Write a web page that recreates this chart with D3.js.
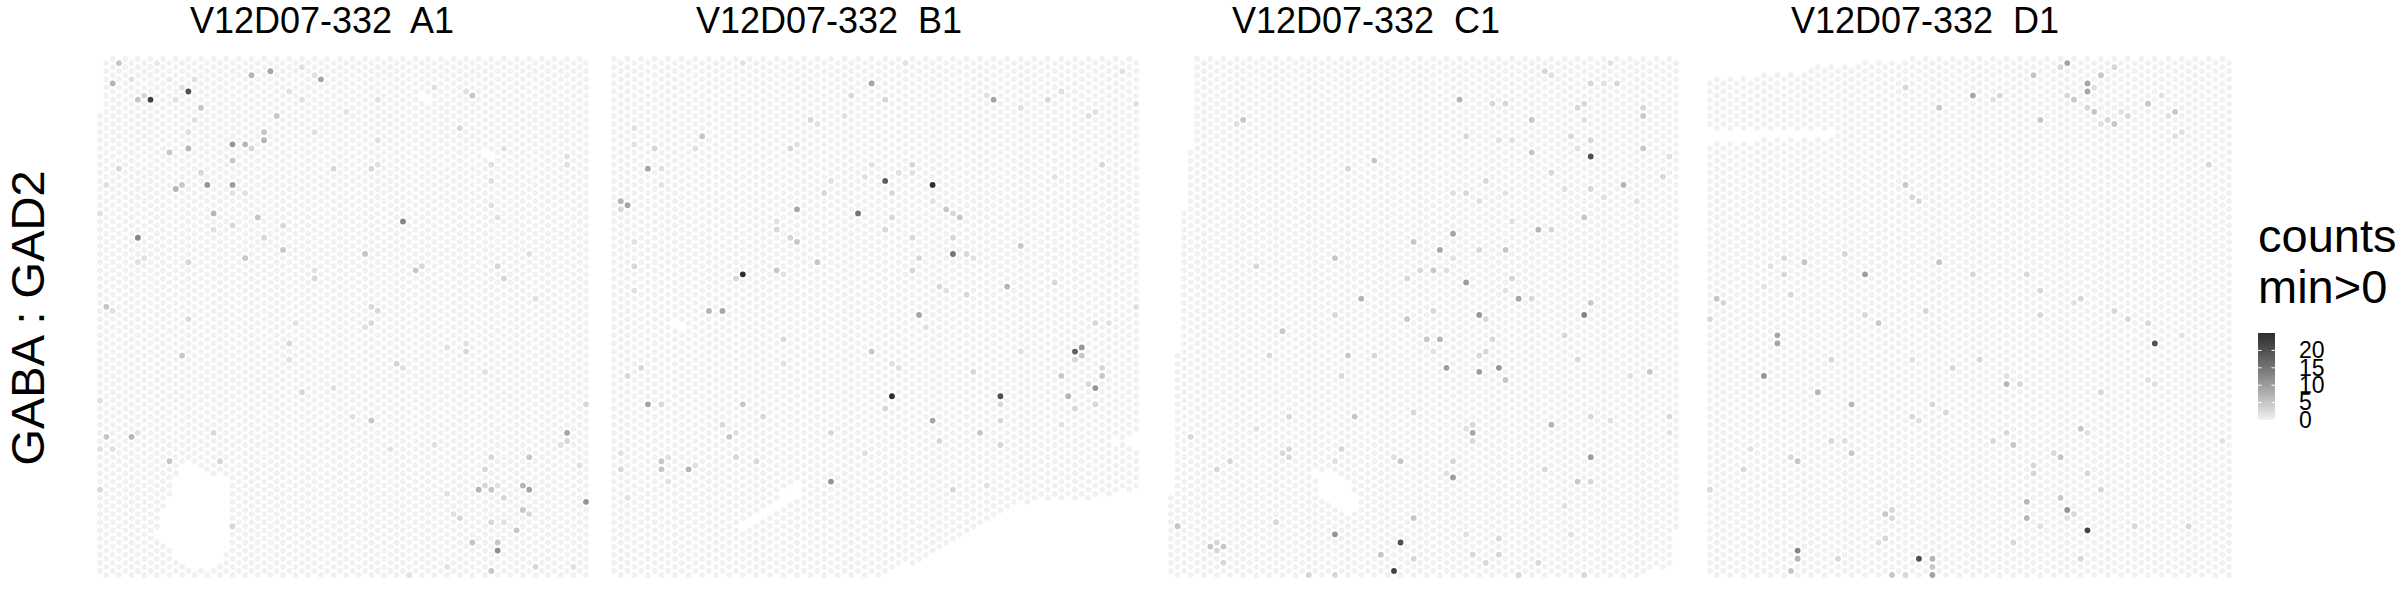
<!DOCTYPE html>
<html><head><meta charset="utf-8">
<script src="https://cdn.jsdelivr.net/npm/d3@7"></script>
<style>
body{margin:0;background:#fff}
svg{display:block}
text{font-family:"Liberation Sans",Arial,Helvetica,sans-serif;fill:#000;white-space:pre}
</style>
</head><body>
<svg id="chart" width="2400" height="600"></svg>
<script>
// ---------------- data ----------------
const sampleNames = ["V12D07-332  A1", "V12D07-332  B1", "V12D07-332  C1", "V12D07-332  D1"];
const featureLabel = "GABA : GAD2";
const legendTitle = ["counts", "min>0"];
const legendTicks = [0, 5, 10, 15, 20];
const countMax = 25;
const nArrayRows = 78;   // spot columns across (x)
const nArrayCols = 128;  // half-step positions down (y)

// reading frame of each capture area: [x of first lattice column, x of last, y of first, y of last]
const frameA1 = [30, 1475, 30, 1525];
const frameB1 = [45, 1510, 30, 1525];
const frameC1 = [30, 1535, 30, 1525];
const frameD1 = [50, 1530, 30, 1530];

// areas without tissue (no spots), in reading units
const gapsA1 = [
  [[280,1200],[330,1222],[408,1250],[408,1455],[370,1505],[300,1505],[195,1420],[205,1360],[250,1262]],
  [[-10,-10],[40,-10],[40,185],[-10,185]],
  [[975,130],[1000,122],[1012,150],[985,160]],
  [[1150,280],[1180,282],[1215,322],[1190,330]]
];
const gapsB1 = [
  [[1530,1262],[1450,1296],[1180,1318],[1150,1345],[780,1545],[1530,1545]],
  [[1530,1105],[1445,1138],[1530,1160]],
  [[390,1392],[405,1370],[560,1262],[578,1280],[420,1398]],
  [[205,790],[222,778],[258,815],[240,828]]
];
const gapsC1 = [
  [[-10,-10],[100,-10],[100,285],[80,285],[80,465],[60,465],[60,875],[40,875],[40,1285],[-10,1285]],
  [[455,1222],[555,1240],[582,1290],[578,1332],[540,1348],[470,1292]],
  [[1545,1390],[1525,1400],[1525,1500],[1450,1510],[1450,1545],[1545,1545]]
];
const gapsD1 = [
  [[-10,-10],[1560,-10],[1560,20],[630,20],[620,36],[480,36],[475,50],[330,50],[325,66],[180,66],[175,82],[-10,82]],
  [[-10,238],[420,238],[432,250],[320,262],[170,262],[160,273],[-10,273]]
];

// spots with counts > 0 : [x, y, count] in reading units
const countsA1 = [[95,42,5],[195,30,1],[75,102,7],[115,78,2],[135,138,5],[155,125,3],[175,138,22],[295,113,20],[315,78,2],[335,160,5],[275,102,2],[235,90,1],[255,138,2],[475,78,7],[535,66,9],[695,90,9],[635,54,2],[675,78,2],[555,195,5],[515,244,5],[515,268,7],[475,292,3],[455,280,7],[415,280,11],[415,327,5],[415,398,10],[415,422,2],[455,422,2],[355,387,11],[375,468,7],[295,280,7],[235,292,5],[255,398,7],[275,387,5],[335,351,3],[315,196,2],[295,232,2],[95,351,3],[135,540,13],[55,398,2],[35,480,2],[495,492,5],[515,552,3],[415,516,3],[375,516,2],[575,516,3],[575,588,5],[455,612,5],[295,612,3],[155,600,2],[135,612,2],[55,752,5],[75,765,2],[295,777,3],[275,884,5],[933,492,13],[853,137,2],[755,172,2],[635,149,2],[595,125,2],[715,339,3],[835,339,3],[855,327,2],[855,256,2],[675,244,2],[815,588,5],[975,636,5],[995,624,3],[675,670,3],[675,647,2],[835,741,3],[855,753,3],[835,789,3],[815,801,2],[595,861,3],[615,801,2],[595,908,2],[915,908,3],[933,920,2],[635,1003,3],[715,980,2],[835,1075,5],[775,1060,2],[893,1157,2],[1033,1145,2],[1133,137,5],[1113,125,2],[1093,232,3],[1033,102,2],[1193,339,2],[1193,387,2],[1193,457,2],[1213,492,2],[1233,290,2],[1413,327,2],[1413,304,2],[1213,636,3],[1233,670,3],[1313,600,2],[1333,730,2],[1113,884,3],[1113,861,2],[1053,873,2],[1173,944,2],[1413,1110,9],[1413,1133,3],[1393,1145,2],[1473,1027,3],[1453,1204,2],[1473,1310,11],[1193,1192,3],[1173,1228,3],[1313,1192,5],[1153,1287,7],[1193,1287,5],[1173,1274,3],[1213,1274,2],[1293,1275,7],[1313,1287,9],[1233,1310,3],[1293,1345,5],[1313,1357,3],[1093,1369,3],[1073,1357,2],[1193,1381,3],[1273,1405,5],[1233,1381,2],[1133,1440,5],[1213,1440,5],[1213,1464,12],[1193,1523,5],[1333,1512,3],[1053,1298,2],[115,1121,7],[55,1133,5],[35,1169,2],[75,1169,2],[135,1110,2],[235,1192,5],[375,1110,3],[395,1192,3],[35,1287,3],[35,1027,2],[415,1393,3],[955,1523,2],[1053,1510,2],[1433,1500,2]];

const countsB1 = [[770,90,9],[710,125,3],[808,137,3],[1110,137,9],[1090,125,2],[1263,137,3],[1300,113,2],[1188,160,2],[1370,185,2],[1395,173,2],[690,185,2],[598,196,3],[618,208,2],[295,244,5],[275,280,2],[105,220,2],[105,268,2],[162,280,3],[143,339,9],[180,339,2],[180,387,2],[68,433,7],[87,445,9],[68,457,3],[105,552,2],[105,624,3],[105,694,2],[87,944,3],[125,920,3],[143,1027,9],[180,1027,3],[180,1192,5],[180,1215,5],[200,1192,2],[257,1215,7],[275,1204,2],[68,1215,3],[68,1168,2],[200,1250,2],[87,1298,2],[408,648,25],[388,660,3],[503,636,5],[522,648,2],[314,753,7],[352,753,9],[522,836,3],[522,908,2],[408,1027,5],[352,1087,3],[370,1121,5],[390,1110,2],[390,1180,3],[447,1192,3],[465,1062,3],[656,1252,11],[656,1110,3],[560,457,9],[541,540,3],[560,552,5],[503,516,3],[503,492,2],[636,410,3],[656,375,2],[617,612,5],[541,280,3],[560,268,2],[731,469,15],[808,375,18],[940,387,25],[826,410,3],[826,480,3],[808,516,3],[883,327,3],[883,351,2],[845,351,2],[750,363,2],[770,327,2],[997,587,15],[978,457,5],[997,469,3],[1016,480,5],[997,540,3],[940,433,2],[883,540,3],[903,600,3],[883,636,3],[1035,587,3],[1054,600,2],[1148,682,7],[1035,706,3],[960,682,3],[978,694,2],[1188,564,5],[1283,670,3],[1414,327,3],[1282,363,2],[902,765,9],[920,800,2],[770,872,5],[826,1003,25],[808,1039,3],[826,908,2],[845,920,2],[940,1074,9],[960,1133,3],[1130,1003,20],[1130,1027,3],[1130,1074,3],[1130,1145,3],[1073,1110,5],[1054,932,3],[1338,872,18],[1357,861,11],[1357,884,5],[1338,896,3],[1300,944,5],[1414,920,3],[1414,944,5],[1395,979,11],[1376,967,3],[1320,1003,7],[1338,1039,3],[1395,1027,3],[1300,1086,2],[1395,790,3],[1433,790,2],[1510,741,2],[1188,872,2],[997,1275,3],[750,1168,2],[1090,1263,2],[1508,150,2],[1470,54,2],[410,30,2],[862,30,2]];

const countsC1 = [[883,137,7],[982,149,3],[1020,149,3],[1100,196,5],[1140,54,3],[1160,66,2],[1277,90,3],[1316,90,2],[1355,90,3],[1336,30,2],[1257,149,3],[1237,160,3],[1257,196,2],[1433,160,3],[1433,185,5],[1218,244,3],[1277,256,3],[1238,280,2],[1433,280,5],[1277,303,20],[1100,291,5],[1375,387,7],[1492,363,3],[1511,303,2],[1158,351,3],[1277,398,3],[1316,422,2],[1414,433,2],[1198,398,2],[1040,257,2],[1001,257,2],[903,244,3],[627,315,5],[548,339,3],[253,208,5],[235,220,2],[962,375,3],[903,410,3],[863,410,2],[941,433,2],[1020,410,2],[1257,481,5],[1120,516,7],[1158,516,3],[1040,492,2],[864,528,9],[745,552,5],[824,576,9],[941,576,3],[1020,576,5],[864,600,2],[509,600,5],[293,636,3],[804,636,5],[765,636,3],[843,636,2],[902,670,10],[725,658,3],[1040,658,3],[1060,718,9],[1100,718,3],[1021,694,2],[588,718,7],[942,765,11],[962,777,3],[1257,765,13],[1277,730,5],[725,777,5],[804,753,3],[371,824,5],[509,765,3],[785,836,5],[824,836,7],[982,836,3],[1198,824,3],[1238,896,3],[548,884,5],[627,884,3],[332,896,3],[843,920,10],[942,932,10],[1001,920,11],[1021,955,5],[962,873,3],[942,884,3],[804,873,2],[529,944,3],[1453,932,5],[1395,944,2],[1512,1062,3],[1512,1110,2],[1277,1062,3],[1336,1074,2],[1158,1086,7],[568,1062,5],[745,1050,3],[922,1110,9],[922,1086,3],[922,1133,3],[902,1098,2],[391,1074,3],[293,1110,2],[96,1133,3],[371,1180,3],[391,1168,3],[391,1192,3],[214,1204,3],[174,1228,3],[529,1157,3],[509,1192,2],[706,1192,5],[686,1180,2],[863,1192,3],[863,1240,10],[843,1228,2],[1277,1180,10],[1237,1252,5],[1138,1215,3],[1277,1252,3],[1198,1323,2],[745,1359,5],[509,1405,11],[706,1429,20],[686,1512,22],[647,1464,5],[745,1476,3],[155,1452,5],[174,1440,3],[194,1452,5],[174,1464,3],[194,1500,3],[56,1393,5],[352,1381,3],[431,1523,3],[509,1523,3],[922,1464,3],[962,1488,3],[1001,1464,3],[1060,1523,3],[1119,1488,3],[1257,1523,3],[903,1405,2],[1001,1417,3],[1217,1405,2]];

const countsD1 = [[1070,30,9],[1128,90,9],[1128,113,9],[1145,102,2],[1165,66,5],[1205,42,3],[1090,137,5],[1070,125,3],[1145,172,5],[1128,160,3],[1185,196,3],[1205,208,5],[1165,208,2],[1300,149,5],[1376,172,5],[1338,125,2],[1360,185,2],[1242,185,3],[1222,172,2],[995,196,5],[975,66,5],[1050,42,3],[800,125,9],[880,125,3],[860,137,2],[706,160,5],[610,102,3],[1470,327,3],[1393,244,2],[1376,256,2],[610,387,5],[630,422,3],[650,433,3],[706,612,5],[495,648,10],[323,612,5],[266,600,3],[437,588,3],[266,648,3],[228,624,2],[955,648,3],[800,648,3],[75,718,5],[94,730,3],[285,706,3],[209,682,2],[55,777,3],[247,824,9],[247,849,9],[209,944,11],[363,991,7],[667,753,3],[535,789,5],[495,765,3],[993,694,3],[1108,718,3],[1088,730,2],[993,765,3],[1203,753,3],[1242,777,3],[1300,789,3],[1319,849,20],[1395,824,2],[820,896,3],[745,920,3],[630,896,2],[400,896,3],[898,967,7],[936,967,3],[897,944,2],[1165,991,3],[1300,955,2],[1319,967,2],[457,1027,7],[687,1027,3],[725,1050,3],[630,1062,3],[650,1074,2],[458,1168,5],[400,1133,3],[437,1133,2],[1108,1098,5],[1128,1110,2],[897,1110,3],[917,1145,5],[860,1133,3],[1050,1180,5],[1030,1168,3],[975,1204,3],[975,1228,3],[955,1310,7],[955,1357,7],[1050,1298,5],[1070,1334,11],[1088,1345,3],[1070,1357,2],[1128,1393,22],[1128,1228,3],[1165,1275,3],[1263,1381,3],[1413,1381,3],[1510,1133,2],[305,1192,5],[285,1180,3],[150,1215,3],[55,1275,3],[170,1157,2],[305,1452,13],[305,1476,7],[285,1535,5],[420,1476,3],[553,1345,5],[572,1334,3],[572,1357,3],[553,1420,3],[535,1429,2],[650,1476,20],[687,1476,7],[687,1500,5],[687,1523,9],[572,1523,5],[610,1523,3],[917,1429,3],[993,1381,2],[1108,1476,3]];

// ---------------- layout ----------------
const W = 2400, H = 600;
const panelLayout = [
  {x0: 100, x1: 586, title: 322},
  {x0: 614, x1: 1136, title: 829},
  {x0: 1171, x1: 1676, title: 1366},
  {x0: 1710, x1: 2229, title: 1925}
];
const panelTop = 59, panelBottom = 575;
const spotR = 2.9;

const samples = [
  {name: sampleNames[0], frame: frameA1, gaps: gapsA1, counts: countsA1},
  {name: sampleNames[1], frame: frameB1, gaps: gapsB1, counts: countsB1},
  {name: sampleNames[2], frame: frameC1, gaps: gapsC1, counts: countsC1},
  {name: sampleNames[3], frame: frameD1, gaps: gapsD1, counts: countsD1}
];

const color = d3.scaleLinear().domain([0, countMax]).range(["#f1f1f1", "#2e2e2e"])
  .interpolate(d3.interpolateLab).clamp(true);

const svg = d3.select("#chart");
svg.append("rect").attr("width", W).attr("height", H).attr("fill", "#fff");

samples.forEach((s, k) => {
  const L = panelLayout[k];
  const latX = d3.scaleLinear().domain([s.frame[0], s.frame[1]]).range([0, nArrayRows - 1]);
  const latY = d3.scaleLinear().domain([s.frame[2], s.frame[3]]).range([0, nArrayCols - 1]);
  const px = d3.scaleLinear().domain([0, nArrayRows - 1]).range([L.x0, L.x1]);
  const py = d3.scaleLinear().domain([0, nArrayCols - 1]).range([panelTop, panelBottom]);

  const cnt = new Map();
  s.counts.forEach(([x, y, v]) => {
    const fi = latX(x), fj = latY(y);
    const i = Math.max(0, Math.min(nArrayRows - 1, Math.round(fi)));
    let j = Math.round(fj);
    if ((i + j) % 2 !== 0) j = (fj >= j) ? j + 1 : j - 1;
    if (j < 0) j += 2; if (j > nArrayCols - 1) j -= 2;
    const key = i + "_" + j;
    cnt.set(key, Math.max(cnt.get(key) || 0, v));
  });

  const spots = [];
  for (let i = 0; i < nArrayRows; i++) {
    for (let j = (i % 2); j < nArrayCols; j += 2) {
      const rx = latX.invert(i), ry = latY.invert(j);
      if (s.gaps.some(g => d3.polygonContains(g, [rx, ry]))) continue;
      spots.push({i, j, v: cnt.get(i + "_" + j) || 0});
    }
  }
  spots.sort((a, b) => a.v - b.v);

  svg.append("g").selectAll("circle").data(spots).join("circle")
    .attr("cx", d => px(d.i))
    .attr("cy", d => py(d.j))
    .attr("r", spotR)
    .attr("fill", d => color(d.v));

  svg.append("text")
    .attr("x", L.title).attr("y", 33)
    .attr("text-anchor", "middle")
    .attr("font-size", 36)
    .attr("xml:space", "preserve")
    .text(s.name);
});

// y label
svg.append("text")
  .attr("transform", "translate(44,318) rotate(-90)")
  .attr("text-anchor", "middle")
  .attr("font-size", 47)
  .text(featureLabel);

// legend
const lg = svg.append("g");
lg.append("text").attr("x", 2258).attr("y", 252).attr("font-size", 47).text(legendTitle[0]);
lg.append("text").attr("x", 2258).attr("y", 303).attr("font-size", 47).text(legendTitle[1]);

const barX = 2258, barW = 17, barTop = 333, barBottom = 420;
const ly = d3.scaleLinear().domain([0, countMax]).range([barBottom, barTop]);
const defs = svg.append("defs");
const grad = defs.append("linearGradient").attr("id", "cbar")
  .attr("x1", 0).attr("y1", 1).attr("x2", 0).attr("y2", 0);
d3.range(0, 1.0001, 0.05).forEach(t => {
  grad.append("stop").attr("offset", t).attr("stop-color", color(t * countMax));
});
lg.append("rect").attr("x", barX).attr("y", barTop).attr("width", barW)
  .attr("height", barBottom - barTop).attr("fill", "url(#cbar)");
legendTicks.forEach(t => {
  lg.append("line").attr("x1", barX).attr("x2", barX + 3.5).attr("y1", ly(t)).attr("y2", ly(t))
    .attr("stroke", "#fff").attr("stroke-width", 1);
  lg.append("line").attr("x1", barX + barW - 3.5).attr("x2", barX + barW).attr("y1", ly(t)).attr("y2", ly(t))
    .attr("stroke", "#fff").attr("stroke-width", 1);
});
const ax = lg.append("g").attr("transform", `translate(2299,0)`)
  .call(d3.axisRight(ly).tickValues(legendTicks).tickSize(0).tickPadding(0));
ax.select(".domain").remove();
ax.selectAll("text").attr("font-size", 23).attr("fill", "#000")
  .attr("font-family", '"Liberation Sans",Arial,sans-serif');
</script>
</body></html>
